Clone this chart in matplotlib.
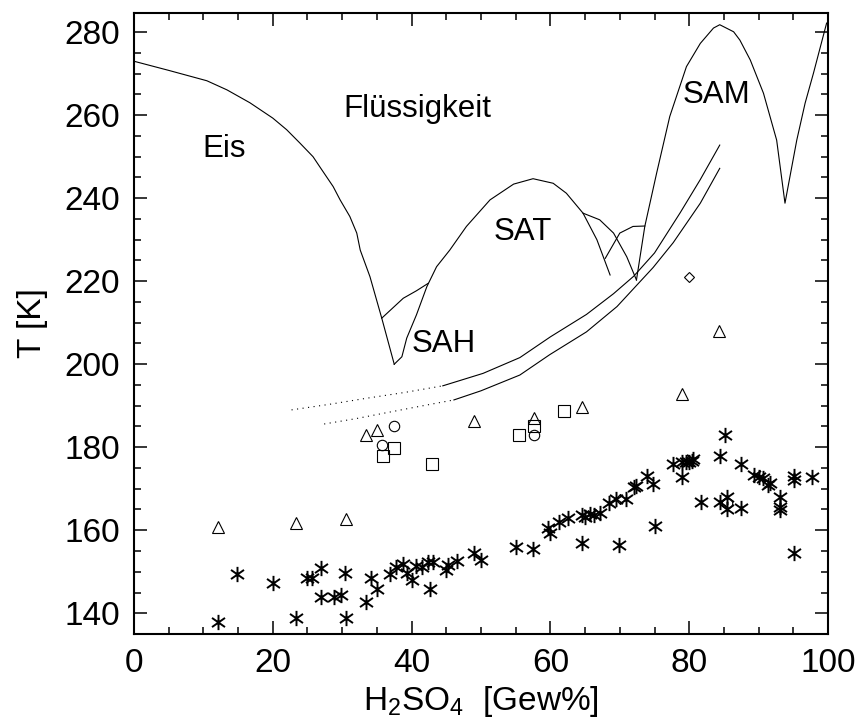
import matplotlib
matplotlib.use('Agg')
import matplotlib.pyplot as plt
from matplotlib.path import Path

plt.rcParams['font.family'] = ['Liberation Sans', 'DejaVu Sans']
plt.rcParams['mathtext.default'] = 'regular'

# Phasengrenzen
ice_x = [0.0, 5.0, 10.5, 13.4, 16.7, 20.0, 22.0, 23.9, 25.8, 26.8, 28.7, 29.7, 31.1, 32.1, 32.6, 34.0, 35.7, 37.5]
ice_y = [273.0, 270.8, 268.3, 266.1, 263.0, 259.3, 256.5, 253.3, 250.0, 247.5, 242.8, 239.6, 235.6, 231.6, 227.5, 221.1, 211.1, 200.0]

sat_x = [37.5, 38.6, 39.3, 40.7, 42.2, 43.6, 45.5, 47.9, 51.3, 54.7, 57.5, 60.4, 62.3, 64.7, 66.7, 68.6]
sat_y = [200.0, 201.8, 206.3, 211.9, 218.7, 223.5, 227.5, 233.2, 239.6, 243.4, 244.7, 243.6, 241.2, 236.4, 230.0, 221.5]

sah_x = [35.7, 38.8, 40.7, 42.4]
sah_y = [211.1, 215.9, 217.7, 219.5]

b1_x = [64.7, 67.1, 69.1, 71.0, 72.4]
b1_y = [236.4, 234.8, 231.6, 225.9, 220.3]

b2_x = [67.9, 70.0, 71.9, 73.6]
b2_y = [225.5, 231.6, 233.2, 233.3]

sam_x = [72.4, 73.6, 75.3, 77.2, 79.6, 81.6, 83.5, 84.4, 86.4, 87.3, 88.8, 90.7, 92.6, 93.8,
         95.5, 96.7, 97.9, 99.8]
sam_y = [220.3, 233.2, 246.0, 259.7, 271.7, 277.3, 281.0, 281.8, 280.1, 278.1, 273.3, 265.3, 254.0, 238.8,
         254.0, 262.9, 270.1, 282.2]

# Gefrierkurven
up_dot_x = [22.7, 28.0, 33.5, 39.0, 44.5]
up_dot_y = [189.0, 190.3, 191.8, 193.2, 194.8]
up_x = [44.5, 50.3, 55.6, 60.0, 65.2, 69.1, 72.0, 75.0, 78.7, 81.6, 84.4]
up_y = [194.8, 197.8, 201.6, 206.6, 212.0, 217.0, 221.2, 226.8, 236.5, 244.5, 252.8]

lo_dot_x = [27.4, 32.0, 36.0, 41.0, 46.1]
lo_dot_y = [185.6, 186.9, 188.2, 189.8, 191.4]
lo_x = [46.1, 50.0, 55.6, 59.9, 65.2, 69.6, 74.8, 77.7, 81.6, 84.4]
lo_y = [191.4, 193.6, 197.4, 202.3, 207.8, 213.9, 223.3, 229.3, 238.8, 247.2]

# Messpunkte
star_x = [12.1, 14.9, 20.0, 23.3, 25.0, 25.6, 26.9, 26.9, 28.8, 29.8, 30.4, 30.5, 33.5, 34.1, 35.0,
          36.9, 37.8, 38.8, 39.3, 40.0, 40.6, 41.5, 42.3, 43.1, 42.6, 45.0, 45.2, 46.6, 49.0, 50.0,
          55.0, 57.5, 59.7, 59.9, 61.2, 62.6, 64.5, 65.0, 65.7, 66.3, 67.1, 68.5, 69.5, 70.9, 72.0,
          72.3, 73.9, 74.8, 64.5, 69.9, 75.1, 77.6, 78.9, 79.6, 78.9, 79.9, 80.4, 80.5, 85.1, 84.5,
          87.4, 89.3, 90.1, 90.7, 91.3, 91.6, 93.1, 93.1, 93.1, 95.1, 95.1, 97.7, 95.1, 81.7, 84.5,
          85.5, 85.5, 87.4]
star_y = [138.0, 149.4, 147.2, 138.9, 148.4, 148.4, 150.8, 144.0, 143.9, 144.4, 149.6, 138.9, 142.8, 148.4, 145.9,
          149.5, 151.1, 151.9, 149.8, 147.9, 151.4, 151.1, 152.4, 152.4, 145.9, 150.4, 151.6, 152.6, 154.5, 152.8,
          155.9, 155.4, 160.5, 159.4, 162.0, 162.9, 163.7, 163.1, 163.9, 163.7, 164.2, 166.5, 167.5, 167.5, 170.4,
          170.7, 173.1, 171.2, 156.9, 156.5, 161.0, 176.0, 176.5, 176.5, 172.9, 176.5, 176.8, 177.1, 183.0, 177.9,
          176.0, 173.3, 172.8, 172.5, 170.9, 171.5, 167.9, 165.6, 164.9, 173.1, 172.1, 172.9, 154.5, 166.9, 166.9,
          167.9, 165.0, 165.3]

tri_x = [12.1, 23.3, 30.5, 33.5, 35.0, 49.0, 57.6, 64.5, 78.9, 84.3]
tri_y = [160.7, 161.7, 162.6, 183.0, 184.2, 186.3, 187.0, 189.8, 192.8, 207.9]

sq_x = [35.9, 37.5, 42.9, 55.5, 57.6, 62.0]
sq_y = [177.9, 179.9, 176.0, 183.0, 185.0, 188.8]

circ_x = [35.8, 37.5, 57.6, 85.4]
circ_y = [180.6, 185.0, 183.0, 166.5]

dia_x = [80.0, 70.0]
dia_y = [220.9, 167.6]

star = Path([(0, -1), (0, 1), (-0.85, -0.6), (0.85, 0.6), (-0.85, 0.6), (0.85, -0.6)],
            [Path.MOVETO, Path.LINETO, Path.MOVETO, Path.LINETO, Path.MOVETO, Path.LINETO])

fig = plt.figure(figsize=(8.6, 7.25), dpi=100)
ax = fig.add_axes([0.1558, 0.1255, 0.807, 0.857])

lw = 0.8
for xs, ys in [(ice_x, ice_y), (sat_x, sat_y), (sah_x, sah_y), (b1_x, b1_y),
               (b2_x, b2_y), (sam_x, sam_y), (up_x, up_y), (lo_x, lo_y)]:
    ax.plot(xs, ys, color='black', linewidth=lw)
for xs, ys in [(up_dot_x, up_dot_y), (lo_dot_x, lo_dot_y)]:
    ax.plot(xs, ys, color='black', linewidth=lw, linestyle=(0, (1, 4)))

ax.plot(star_x, star_y, linestyle='none', marker=star, markersize=11,
        markeredgecolor='black', markeredgewidth=1.4)
ax.plot(tri_x, tri_y, linestyle='none', marker='^', markersize=8,
        markerfacecolor='none', markeredgecolor='black', markeredgewidth=0.8)
ax.plot(sq_x, sq_y, linestyle='none', marker='s', markersize=8,
        markerfacecolor='none', markeredgecolor='black', markeredgewidth=0.8)
ax.plot(circ_x, circ_y, linestyle='none', marker='o', markersize=7.5,
        markerfacecolor='none', markeredgecolor='black', markeredgewidth=0.8)
ax.plot(dia_x, dia_y, linestyle='none', marker='D', markersize=5.5,
        markerfacecolor='none', markeredgecolor='black', markeredgewidth=0.8)

fs = 22.5
ax.text(13.0, 250.0, 'Eis', fontsize=fs, ha='center', va='baseline')
ax.text(40.9, 259.6, 'Flüssigkeit', fontsize=fs, ha='center', va='baseline')
ax.text(56.0, 230.0, 'SAT', fontsize=fs, ha='center', va='baseline')
ax.text(44.6, 203.0, 'SAH', fontsize=fs, ha='center', va='baseline')
ax.text(83.9, 262.9, 'SAM', fontsize=fs, ha='center', va='baseline')

ax.set_xlim(0, 100)
ax.set_ylim(135, 284.7)
ax.set_xticks([0, 20, 40, 60, 80, 100])
ax.set_xticks(range(0, 101, 5), minor=True)
ax.set_yticks([140, 160, 180, 200, 220, 240, 260, 280])
ax.set_yticks(range(140, 285, 5), minor=True)
ax.tick_params(which='both', direction='in', top=True, right=True, width=1.1, labelsize=24)
ax.tick_params(which='major', length=9.5, pad=10)
ax.tick_params(which='minor', length=5)
for s in ax.spines.values():
    s.set_linewidth(1.5)

ax.set_xlabel('H$_2$SO$_4$  [Gew%]', fontsize=24, labelpad=4)
ax.set_ylabel('T [K]', fontsize=24, labelpad=12)

fig.savefig('out.png', dpi=100)
